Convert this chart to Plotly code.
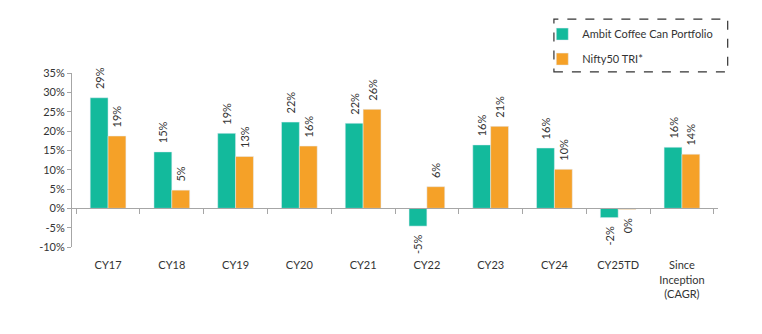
import plotly.graph_objects as go

categories = ["CY17", "CY18", "CY19", "CY20", "CY21", "CY22", "CY23", "CY24", "CY25TD",
              "Since<br>Inception<br>(CAGR)"]
ambit = [28.6, 14.6, 19.4, 22.3, 22.0, -4.6, 16.4, 15.6, -2.4, 15.8]
nifty = [18.7, 4.7, 13.4, 16.1, 25.6, 5.6, 21.2, 10.1, -0.3, 14.0]
series_names = ["Ambit Coffee Can Portfolio", "Nifty50 TRI*"]
y_ticks = [-10, -5, 0, 5, 10, 15, 20, 25, 30, 35]
y_tick_text = [f"{v}%" for v in y_ticks]

TEAL = "#13BA9C"
ORANGE = "#F5A128"
FONT = "Lato, Open Sans, sans-serif"
TXT = "#333333"
AX = "#A6A6A6"
PAD = "\u00a0\u00a0"


def lab(vals):
    out = []
    for v in vals:
        s = f"{int(round(v))}%"
        out.append(PAD + s if v >= 0 else s + PAD)
    return out


fig = go.Figure()
fig.add_trace(go.Bar(x=categories, y=ambit, name=series_names[0], marker_color=TEAL,
                     text=lab(ambit), textposition="outside", textangle=-90,
                     constraintext="none",
                     textfont=dict(size=11, color=TXT, family=FONT), cliponaxis=False,
                     legendgroup="a"))
fig.add_trace(go.Bar(x=categories, y=nifty, name=series_names[1], marker_color=ORANGE,
                     text=lab(nifty), textposition="outside", textangle=-90,
                     constraintext="none",
                     textfont=dict(size=11, color=TXT, family=FONT), cliponaxis=False,
                     legendgroup="b"))
# helper trace for the zero-line axis with boundary ticks
fig.add_trace(go.Scatter(x=categories, y=[0] * len(categories), xaxis="x2", mode="markers",
                         marker=dict(opacity=0), showlegend=False, hoverinfo="skip"))

zero_pos = (0 - y_ticks[0]) / (y_ticks[-1] - y_ticks[0])

fig.update_layout(
    width=762, height=334,
    margin=dict(l=72, r=44, t=73, b=87),
    paper_bgcolor="white", plot_bgcolor="white",
    font=dict(family=FONT, size=11, color=TXT),
    barmode="group", bargap=0.44, bargroupgap=0,
    xaxis=dict(showline=False, showgrid=False, zeroline=False, ticks="outside", ticklen=8,
               tickcolor="rgba(0,0,0,0)", tickfont=dict(size=11, color=TXT, family=FONT)),
    xaxis2=dict(overlaying="x", matches="x", anchor="free", position=zero_pos, side="bottom",
                showline=True, linecolor=AX, linewidth=1, ticks="outside", ticklen=5,
                tickcolor=AX, tickson="boundaries", showticklabels=False, showgrid=False,
                zeroline=False),
    yaxis=dict(range=[y_ticks[0], y_ticks[-1]], tickmode="array", tickvals=y_ticks,
               ticktext=y_tick_text,
               showline=True, linecolor=AX, linewidth=1, ticks="outside", ticklen=4,
               tickcolor=AX, showgrid=False, zeroline=False,
               tickfont=dict(size=11, color=TXT, family=FONT)),
    legend=dict(x=0.728, y=1.307, xanchor="left", yanchor="top", orientation="v",
                font=dict(size=11, color=TXT, family=FONT), itemwidth=30,
                tracegroupgap=6, bgcolor="rgba(0,0,0,0)", traceorder="grouped"),
    shapes=[dict(type="rect", xref="paper", yref="paper", x0=0.746, x1=1.015, y0=1.006, y1=1.31,
                 line=dict(color="#333333", width=1.2, dash="dash"))],
    showlegend=True,
)

fig.write_html("out.html")
